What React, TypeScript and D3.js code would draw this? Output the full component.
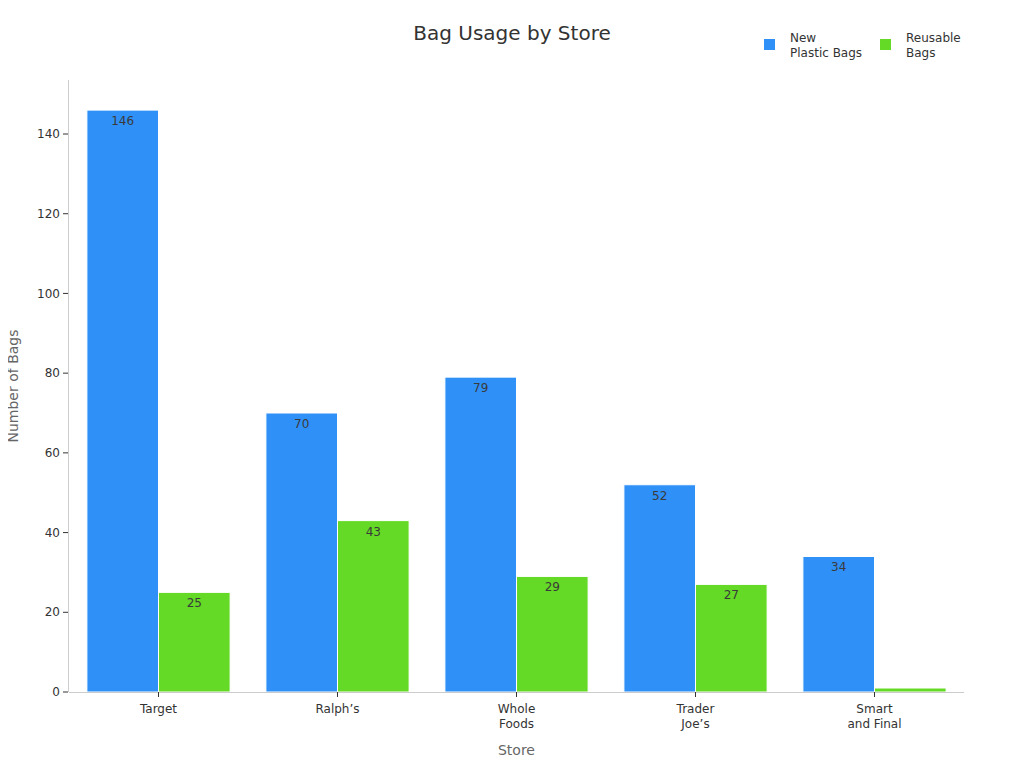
import * as d3 from "d3";
import { useEffect, useRef } from "react";

const stores = ["Target", "Ralph’s", "Whole\nFoods", "Trader\nJoe’s", "Smart\nand Final"];
const seriesNames = ["New\nPlastic Bags", "Reusable\nBags"];
const plasticBags = [146, 70, 79, 52, 34];
const reusableBags = [25, 43, 29, 27, 1];
const yTicks = [0, 20, 40, 60, 80, 100, 120, 140];
const colors = ["#2f91f7", "#64da26"];

export default function App() {
  const svgRef = useRef<SVGSVGElement | null>(null);

  useEffect(() => {
    const width = 1024;
    const height = 768;
    const margin = { top: 80, right: 60, bottom: 76, left: 69 };

    const svg = d3.select(svgRef.current);
    svg.selectAll("*").remove();
    svg.style("font-family", "'DejaVu Sans', sans-serif");

    const x0 = d3
      .scaleBand<number>()
      .domain(d3.range(stores.length))
      .range([margin.left, width - margin.right])
      .paddingInner(0.2)
      .paddingOuter(0.1);
    const x1 = d3
      .scaleBand<number>()
      .domain([0, 1])
      .range([0, x0.bandwidth()]);
    const y = d3
      .scaleLinear()
      .domain([0, d3.max(plasticBags)! * 1.05])
      .range([height - margin.bottom, margin.top + 1]);

    const values = [plasticBags, reusableBags];
    const defs = svg.append("defs");

    // bars
    const bars = svg.append("g");
    values.forEach((vals, si) => {
      vals.forEach((v, i) => {
        const bx = x0(i)! + x1(si)!;
        const by = y(v);
        const bh = y(0) - y(v);
        const id = `clip-${si}-${i}`;
        defs
          .append("clipPath")
          .attr("id", id)
          .append("rect")
          .attr("x", bx)
          .attr("y", by - 1)
          .attr("width", x1.bandwidth())
          .attr("height", bh + 2);
        bars
          .append("rect")
          .attr("x", bx)
          .attr("y", by)
          .attr("width", x1.bandwidth())
          .attr("height", bh)
          .attr("fill", colors[si])
          .attr("stroke", "#fff")
          .attr("stroke-width", 1);
        bars
          .append("text")
          .attr("clip-path", `url(#${id})`)
          .attr("x", bx + x1.bandwidth() / 2)
          .attr("y", by + 15)
          .attr("text-anchor", "middle")
          .attr("fill", "#3a3a3a")
          .style("font-size", "12px")
          .text(v);
      });
    });

    // y axis
    const yAxis = svg.append("g");
    yAxis
      .append("line")
      .attr("x1", margin.left - 0.5)
      .attr("x2", margin.left - 0.5)
      .attr("y1", margin.top)
      .attr("y2", y(0))
      .attr("stroke", "#ccc");
    yTicks.forEach((t) => {
      yAxis
        .append("line")
        .attr("x1", margin.left - 6)
        .attr("x2", margin.left - 1)
        .attr("y1", y(t))
        .attr("y2", y(t))
        .attr("stroke", "#333");
      yAxis
        .append("text")
        .attr("x", margin.left - 9)
        .attr("y", y(t))
        .attr("dy", "0.35em")
        .attr("text-anchor", "end")
        .attr("fill", "#333")
        .style("font-size", "12px")
        .text(t);
    });

    // x axis
    const xAxis = svg.append("g");
    xAxis
      .append("line")
      .attr("x1", margin.left)
      .attr("x2", width - margin.right)
      .attr("y1", y(0) + 0.5)
      .attr("y2", y(0) + 0.5)
      .attr("stroke", "#ccc");
    stores.forEach((s, i) => {
      const cx = x0(i)! + x0.bandwidth() / 2;
      xAxis
        .append("line")
        .attr("x1", cx)
        .attr("x2", cx)
        .attr("y1", y(0))
        .attr("y2", y(0) + 5)
        .attr("stroke", "#333");
      const t = xAxis
        .append("text")
        .attr("x", cx)
        .attr("y", y(0) + 21)
        .attr("text-anchor", "middle")
        .attr("fill", "#333")
        .style("font-size", "12px");
      s.split("\n").forEach((line, li) => {
        t.append("tspan").attr("x", cx).attr("dy", li === 0 ? 0 : 15).text(line);
      });
    });

    // axis titles
    svg
      .append("text")
      .attr("x", (margin.left + width - margin.right) / 2)
      .attr("y", 755)
      .attr("text-anchor", "middle")
      .attr("fill", "#666")
      .style("font-size", "14px")
      .text("Store");
    svg
      .append("text")
      .attr("transform", `translate(18, ${(margin.top + y(0)) / 2}) rotate(-90)`)
      .attr("text-anchor", "middle")
      .attr("fill", "#666")
      .style("font-size", "14px")
      .text("Number of Bags");

    // title
    svg
      .append("text")
      .attr("x", 512)
      .attr("y", 40)
      .attr("text-anchor", "middle")
      .attr("fill", "#333")
      .style("font-size", "20px")
      .text("Bag Usage by Store");

    // legend
    const legendX = [764, 880];
    seriesNames.forEach((name, si) => {
      const g = svg.append("g").attr("transform", `translate(${legendX[si]}, 39)`);
      g.append("rect").attr("width", 11).attr("height", 11).attr("fill", colors[si]);
      const t = g
        .append("text")
        .attr("x", 26)
        .attr("y", 3)
        .attr("fill", "#333")
        .style("font-size", "12px");
      name.split("\n").forEach((line, li) => {
        t.append("tspan").attr("x", 26).attr("dy", li === 0 ? 0 : 15).text(line);
      });
    });
  }, []);

  return <svg ref={svgRef} width={1024} height={768} style={{ display: "block", margin: -8 }} />;
}
